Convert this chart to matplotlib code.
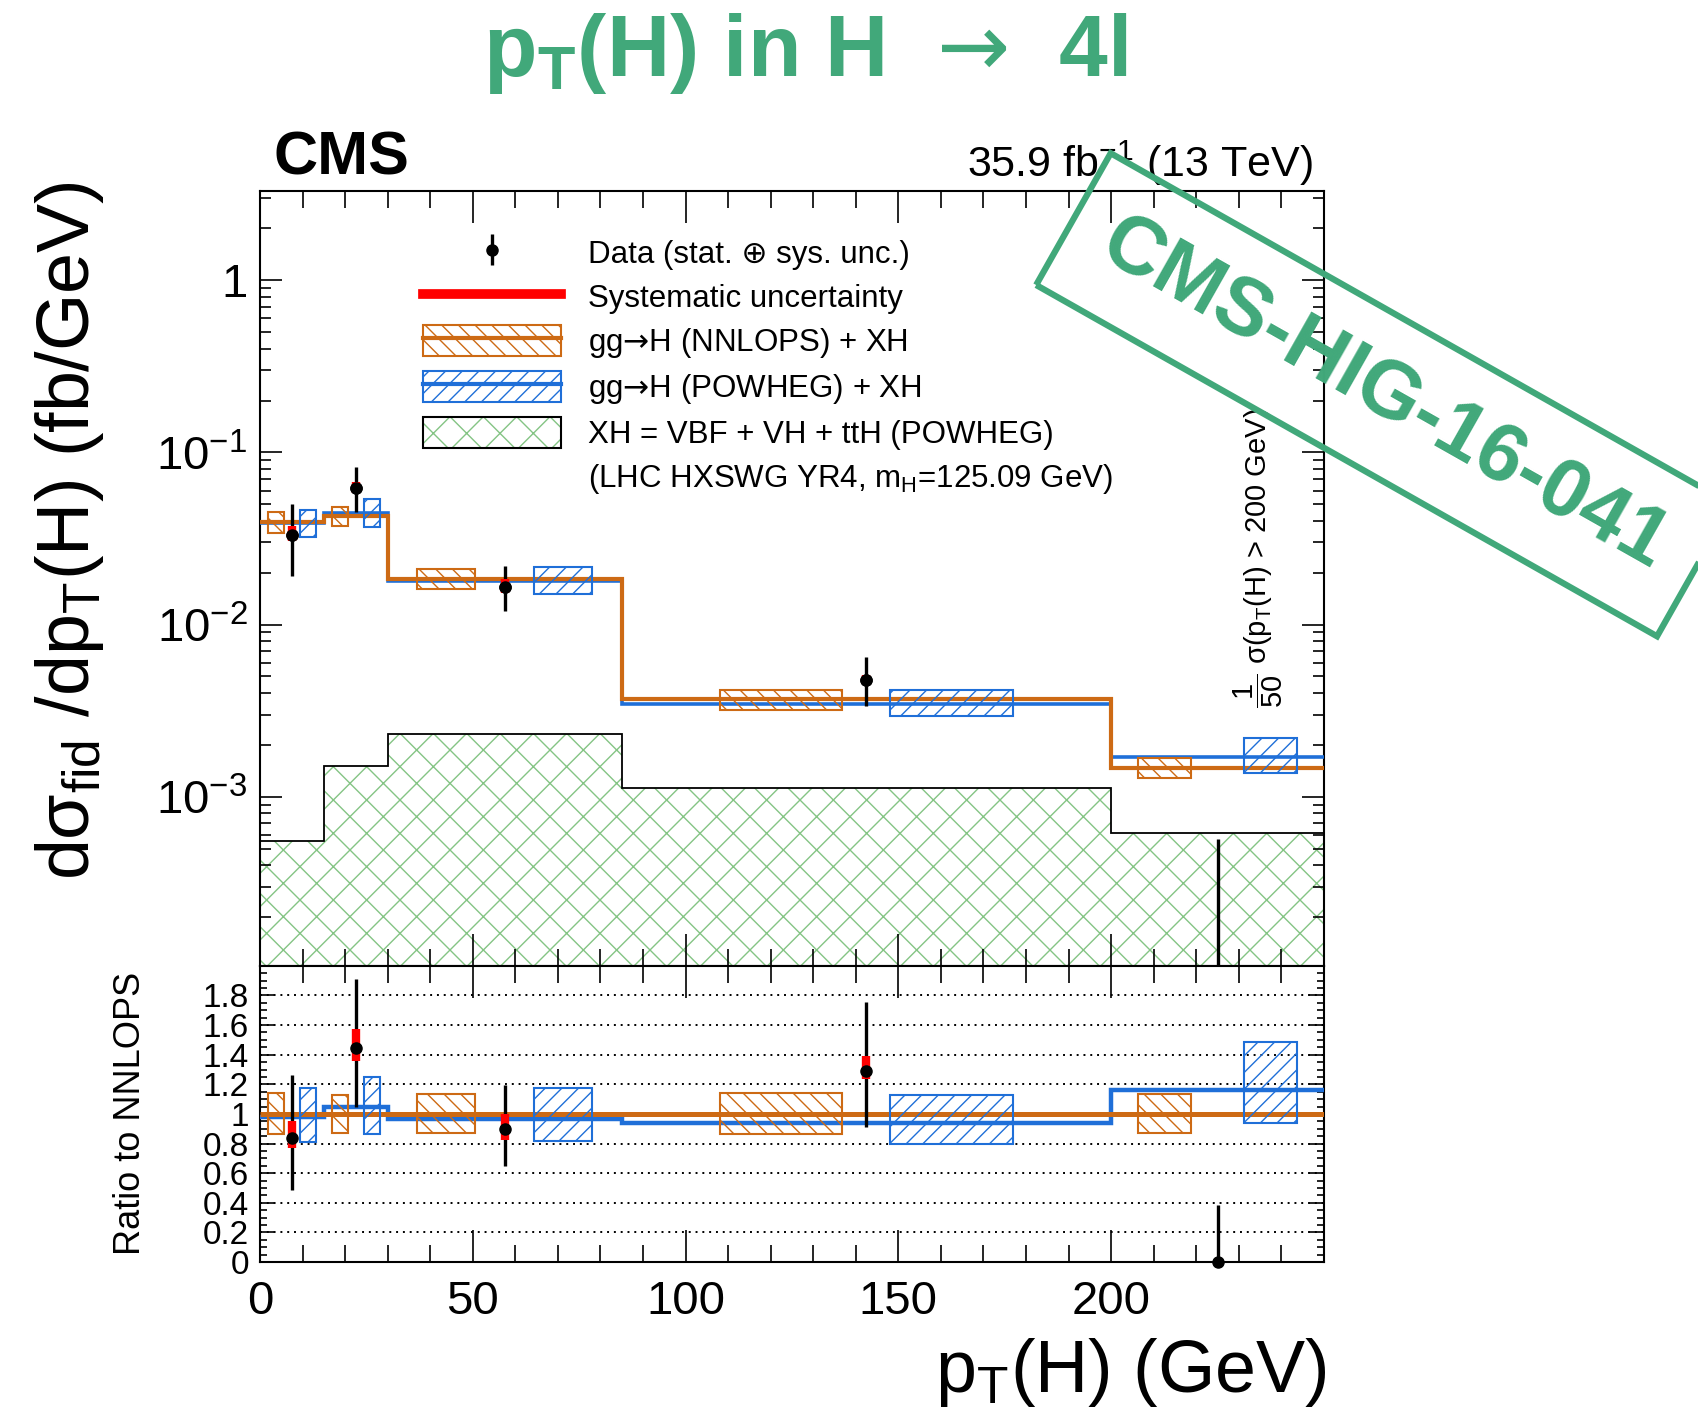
import numpy as np
import matplotlib
matplotlib.use('Agg')
import matplotlib.pyplot as plt
from matplotlib.patches import Patch, Rectangle
from matplotlib.lines import Line2D
from matplotlib.ticker import MultipleLocator, FixedLocator, LogLocator, NullFormatter

plt.rcParams['font.family'] = ['Liberation Sans', 'DejaVu Sans']
plt.rcParams['mathtext.fontset'] = 'custom'
plt.rcParams['mathtext.rm'] = 'Liberation Sans'
plt.rcParams['mathtext.it'] = 'Liberation Sans:italic'
plt.rcParams['mathtext.bf'] = 'Liberation Sans:bold'
plt.rcParams['mathtext.sf'] = 'DejaVu Sans'
plt.rcParams['mathtext.default'] = 'regular'
plt.rcParams['hatch.linewidth'] = 1.0

# pT(H) bins, the last one is the overflow bin (> 200 GeV) drawn up to 250
bin_edges = [0, 15, 30, 85, 200, 250]
bin_centers = [7.5, 22.5, 57.5, 142.5, 225]

# predictions (fb/GeV)
nnlops = [0.0396, 0.0428, 0.01845, 0.00368, 0.001476]
powheg = [0.0387, 0.0447, 0.01786, 0.00346, 0.00171]
xh = [5.5e-4, 1.51e-3, 2.31e-3, 1.13e-3, 6.2e-4]

# theory uncertainty bands as ratio to NNLOPS
nnlops_lo = [0.865, 0.870, 0.872, 0.862, 0.870]
nnlops_hi = [1.143, 1.131, 1.137, 1.140, 1.137]
powheg_lo = [0.811, 0.867, 0.820, 0.798, 0.937]
powheg_hi = [1.172, 1.248, 1.174, 1.129, 1.485]

# measurement (fb/GeV) with total and systematic uncertainties
data = [0.0331, 0.0618, 0.0166, 0.00475, 0.0]
data_up = [0.0170, 0.0200, 0.00542, 0.00172, 0.000565]
data_dn = [0.0139, 0.0170, 0.00467, 0.00139, 0.0]
sys_up = [0.0045, 0.0056, 0.0019, 0.00037, 0.0]
sys_dn = [0.0027, 0.0038, 0.00144, 0.00021, 0.0]

orange = '#CD6A14'
blue = '#1F6FD8'
green_hatch = '#84C484'
stamp_green = '#41A87A'
arrow = '$\\mathsf{\u2192}$'

edges = np.array(bin_edges, dtype=float)
centers = np.array(bin_centers, dtype=float)
widths = np.diff(edges)
nn = np.array(nnlops)
pw = np.array(powheg)
d = np.array(data)
dup, ddn = np.array(data_up), np.array(data_dn)
sup, sdn = np.array(sys_up), np.array(sys_dn)
shift = np.minimum(0.25 * widths, 20)
box_w = 0.25 * widths

fig = plt.figure(figsize=(16.98, 14.2), dpi=100)
ax = fig.add_axes([0.1531, 0.3197, 0.6266, 0.5458])
ax2 = fig.add_axes([0.1531, 0.1113, 0.6266, 0.2085], sharex=ax)

# ---------------- main panel ----------------
ax.stairs(xh, edges, baseline=1e-8, fill=True, facecolor='none', edgecolor=green_hatch,
          hatch='x', lw=0, zorder=1)
ax.stairs(xh, edges, baseline=None, color='k', lw=1.3, zorder=2)
ax.stairs(pw, edges, baseline=None, color=blue, lw=2.6, zorder=3)
ax.stairs(nn, edges, baseline=None, color=orange, lw=3.0, zorder=3)

for i in range(len(centers)):
    ax.add_patch(Rectangle((centers[i] - shift[i] - box_w[i] / 2, nn[i] * nnlops_lo[i]), box_w[i],
                           nn[i] * (nnlops_hi[i] - nnlops_lo[i]), facecolor='none', edgecolor=orange,
                           hatch='\\\\', lw=1.5, zorder=4))
    ax.add_patch(Rectangle((centers[i] + shift[i] - box_w[i] / 2, nn[i] * powheg_lo[i]), box_w[i],
                           nn[i] * (powheg_hi[i] - powheg_lo[i]), facecolor='none', edgecolor=blue,
                           hatch='//', lw=1.5, zorder=4))

pos = d > 0
h_data = ax.errorbar(centers[pos], d[pos], yerr=[ddn[pos], dup[pos]], fmt='o', color='k',
                     ms=8, elinewidth=2.4, capsize=0, zorder=5)
ax.vlines(centers[~pos], 1e-8, d[~pos] + dup[~pos], color='k', lw=2.4, zorder=5)
ax.vlines(centers[pos], d[pos] - sdn[pos], d[pos] + sup[pos], color='red', lw=6, zorder=6)
ax.plot(centers[pos], d[pos], 'o', color='k', ms=8, zorder=7)

ax.set_yscale('log')
ax.set_xlim(0, 250)
ax.set_ylim(1.04e-4, 3.3)
ax.yaxis.set_major_locator(FixedLocator([1e-3, 1e-2, 1e-1, 1]))
ax.set_yticklabels(['$10^{-3}$', '$10^{-2}$', '$10^{-1}$', '1'])
ax.yaxis.set_minor_locator(LogLocator(base=10, subs=np.arange(2, 10)))
ax.yaxis.set_minor_formatter(NullFormatter())
ax.xaxis.set_major_locator(MultipleLocator(50))
ax.xaxis.set_minor_locator(MultipleLocator(10))
ax.tick_params(which='both', direction='in', top=True, right=True, width=1.2)
ax.tick_params(axis='x', which='major', length=23, labelbottom=False)
ax.tick_params(axis='x', which='minor', length=12)
ax.tick_params(axis='y', which='major', length=16, labelsize=34, pad=9)
ax.tick_params(axis='y', which='minor', length=8)

handles = [
    h_data,
    Line2D([], [], color='red', lw=7),
    (Patch(facecolor='none', edgecolor=orange, hatch='\\\\', lw=1.5), Line2D([], [], color=orange, lw=3)),
    (Patch(facecolor='none', edgecolor=blue, hatch='//', lw=1.5), Line2D([], [], color=blue, lw=3)),
    (Patch(facecolor='none', edgecolor=green_hatch, hatch='x', lw=0), Patch(facecolor='none', edgecolor='k', lw=1.5)),
    Line2D([], [], linestyle='none'),
]
labels = [
    'Data (stat. \u2295 sys. unc.)',
    'Systematic uncertainty',
    'gg' + arrow + 'H (NNLOPS) + XH',
    'gg' + arrow + 'H (POWHEG) + XH',
    'XH = VBF + VH + ttH (POWHEG)',
    '(LHC HXSWG YR4, m$_H$=125.09 GeV)',
]
ax.legend(handles, labels, loc='upper left', bbox_to_anchor=(0.153, 0.941), frameon=False,
          fontsize=22.5, handlelength=4.42, handleheight=1.15, handletextpad=0.86,
          labelspacing=0.35, borderpad=0, borderaxespad=0)

fig.text(0.741, 0.607, r'$\dfrac{1}{50}$ $\sigma$(p$_T$(H) > 200 GeV)', rotation=90,
         ha='center', va='center', fontsize=21)

# ---------------- ratio panel ----------------
ratio_pw = pw / nn
ax2.stairs(ratio_pw, edges, baseline=None, color=blue, lw=3.2, zorder=3)
ax2.stairs(np.ones_like(nn), edges, baseline=None, color=orange, lw=3.6, zorder=3)
for i in range(len(centers)):
    ax2.add_patch(Rectangle((centers[i] - shift[i] - box_w[i] / 2, nnlops_lo[i]), box_w[i],
                            nnlops_hi[i] - nnlops_lo[i], facecolor='none', edgecolor=orange,
                            hatch='\\\\', lw=1.5, zorder=4))
    ax2.add_patch(Rectangle((centers[i] + shift[i] - box_w[i] / 2, powheg_lo[i]), box_w[i],
                            powheg_hi[i] - powheg_lo[i], facecolor='none', edgecolor=blue,
                            hatch='//', lw=1.5, zorder=4))

r = d / nn
ax2.vlines(centers, r - ddn / nn, r + dup / nn, color='k', lw=2.4, zorder=5)
ax2.vlines(centers[pos], (r - sdn / nn)[pos], (r + sup / nn)[pos], color='red', lw=6, zorder=6)
ax2.plot(centers, r, 'o', color='k', ms=8, zorder=7, clip_on=False)

ax2.set_ylim(0, 2)
ax2.yaxis.set_major_locator(FixedLocator(np.arange(0, 1.81, 0.2)))
ax2.yaxis.set_major_formatter(lambda v, p: '{:g}'.format(round(v, 1)))
ax2.yaxis.set_minor_locator(MultipleLocator(0.05))
ax2.xaxis.set_major_formatter(lambda v, p: '' if v > 240 else '{:g}'.format(v))
ax2.grid(axis='y', which='major', color='k', linestyle=(0, (1, 2.5)), lw=1.4)
ax2.tick_params(which='both', direction='in', top=True, right=True, width=1.2)
ax2.tick_params(axis='x', which='major', length=23, labelsize=34, pad=13)
ax2.tick_params(axis='x', which='minor', length=12)
ax2.tick_params(axis='y', which='major', length=10, labelsize=24, pad=8)
ax2.tick_params(axis='y', which='minor', length=5)

for a in (ax, ax2):
    for s in a.spines.values():
        s.set_linewidth(1.5)

# ---------------- labels ----------------
fig.text(0.041, 0.626, r'd$\sigma_{fid}$ /dp$_T$(H) (fb/GeV)', rotation=90, ha='center',
         va='center', fontsize=53)
fig.text(0.0766, 0.216, 'Ratio to NNLOPS', rotation=90, ha='center', va='center', fontsize=26)
fig.text(0.781, 0.0197, 'p$_T$(H) (GeV)', ha='right', va='baseline', fontsize=53)
fig.text(0.161, 0.877, 'CMS', fontsize=44, weight='bold', va='baseline')
fig.text(0.773, 0.875, '35.9 fb$^{-1}$ (13 TeV)', ha='right', va='baseline', fontsize=31)
fig.text(0.474, 0.962, 'p$_\\mathbf{T}$(H) in H  ' + arrow + '  4l',
         ha='center', va='center', fontsize=63, weight='bold', color=stamp_green)
fig.text(0.815, 0.722, 'CMS-HIG-16-041', rotation=-29.5, ha='center', va='center', fontsize=59,
         weight='bold', color=stamp_green, rotation_mode='anchor',
         bbox=dict(boxstyle='square,pad=0.46', facecolor='none', edgecolor=stamp_green, lw=4.5))

fig.savefig('out.png', dpi=100)
